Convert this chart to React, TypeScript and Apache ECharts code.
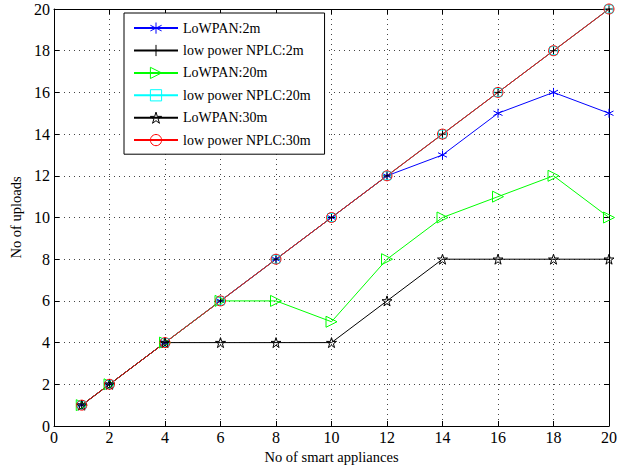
import React, { useEffect, useRef } from "react";
import * as echarts from "echarts";

const appliances = [1, 2, 4, 6, 8, 10, 12, 14, 16, 18, 20];
const lowpan2m = [1, 2, 4, 6, 8, 10, 12, 13, 15, 16, 15];
const nplc2m = [1, 2, 4, 6, 8, 10, 12, 14, 16, 18, 20];
const lowpan20m = [1, 2, 4, 6, 6, 5, 8, 10, 11, 12, 10];
const nplc20m = [1, 2, 4, 6, 8, 10, 12, 14, 16, 18, 20];
const lowpan30m = [1, 2, 4, 4, 4, 4, 6, 8, 8, 8, 8];
const nplc30m = [1, 2, 4, 6, 8, 10, 12, 14, 16, 18, 20];

const seriesNames = [
  "LoWPAN:2m",
  "low power NPLC:2m",
  "LoWPAN:20m",
  "low power NPLC:20m",
  "LoWPAN:30m",
  "low power NPLC:30m",
];
const seriesValues = [lowpan2m, nplc2m, lowpan20m, nplc20m, lowpan30m, nplc30m];
const seriesColors = ["#0000ff", "#000000", "#00ff00", "#00ffff", "#000000", "#ff0000"];

const ASTERISK = "path://M0,-5 L0,5 M-4.33,-2.5 L4.33,2.5 M-4.33,2.5 L4.33,-2.5";
const PLUS = "path://M0,-5 L0,5 M-5,0 L5,0";
const TRI_RIGHT = "path://M-5,-5 L5,0 L-5,5 Z";
const STAR =
  "path://M0,-5 L1.123,-1.545 L4.755,-1.545 L1.816,0.59 L2.939,4.045 L0,1.91 L-2.939,4.045 L-1.816,0.59 L-4.755,-1.545 L-1.123,-1.545 Z";
const symbols = [ASTERISK, PLUS, TRI_RIGHT, "rect", STAR, "circle"];
const symbolSizes = [9, 9, 11, 8, 10, 10];

const FONT = "Liberation Serif";

export default function App() {
  const ref = useRef<HTMLDivElement>(null);
  useEffect(() => {
    if (!ref.current) return;
    const chart = echarts.init(ref.current, null, { renderer: "svg" });
    const axisCommon = {
      type: "value" as const,
      min: 0,
      max: 20,
      interval: 2,
      axisLine: { show: true, onZero: false, lineStyle: { color: "#000", width: 1 } },
      axisTick: { show: true, inside: true, length: 5, lineStyle: { color: "#000" } },
      axisLabel: { color: "#000", fontFamily: FONT, fontSize: 16 },
    };
    chart.setOption({
      animation: false,
      backgroundColor: "#fff",
      textStyle: { fontFamily: FONT },
      grid: { left: 44, right: 7, top: 9, bottom: 44, containLabel: false },
      legend: {
        orient: "vertical",
        left: 124,
        top: 13,
        padding: [7, 14, 6, 9],
        itemGap: 6.2,
        itemWidth: 44,
        itemHeight: 14,
        backgroundColor: "#fff",
        borderColor: "#000",
        borderWidth: 1,
        borderRadius: 0,
        textStyle: { color: "#000", fontFamily: FONT, fontSize: 14 },
        data: seriesNames.map((name, i) => ({
          name,
          itemStyle: { color: "none", borderColor: seriesColors[i], borderWidth: 1 },
        })),
      },
      xAxis: [
        {
          ...axisCommon,
          position: "bottom",
          name: "No of smart appliances",
          nameLocation: "middle",
          nameGap: 22,
          nameTextStyle: { color: "#000", fontFamily: FONT, fontSize: 14.5 },
          axisLabel: { ...axisCommon.axisLabel, margin: 3 },
          splitLine: { show: true, lineStyle: { color: "#444", type: [1, 4], width: 1 } },
        },
        {
          ...axisCommon,
          position: "top",
          axisLabel: { show: false },
          splitLine: { show: false },
        },
      ],
      yAxis: [
        {
          ...axisCommon,
          position: "left",
          name: "No of uploads",
          nameLocation: "middle",
          nameGap: 31,
          nameTextStyle: { color: "#000", fontFamily: FONT, fontSize: 14.5 },
          axisLabel: { ...axisCommon.axisLabel, margin: 4 },
          splitLine: { show: true, lineStyle: { color: "#444", type: [1, 4], width: 1 } },
        },
        {
          ...axisCommon,
          position: "right",
          axisLabel: { show: false },
          splitLine: { show: false },
        },
      ],
      series: seriesNames.map((name, i) => ({
        name,
        type: "line",
        xAxisIndex: 0,
        yAxisIndex: 0,
        data: appliances.map((x, j) => [x, seriesValues[i][j]]),
        symbol: symbols[i],
        symbolSize: symbolSizes[i],
        showAllSymbol: true,
        lineStyle: { color: seriesColors[i], width: 1 },
        itemStyle: {
          color: "none",
          borderColor: seriesColors[i],
          borderWidth: 1,
        },
        emphasis: { disabled: true },
      })),
    });
    return () => chart.dispose();
  }, []);
  return (
    <div
      ref={ref}
      style={{ position: "fixed", left: 0, top: 0, width: 620, height: 470 }}
    />
  );
}
